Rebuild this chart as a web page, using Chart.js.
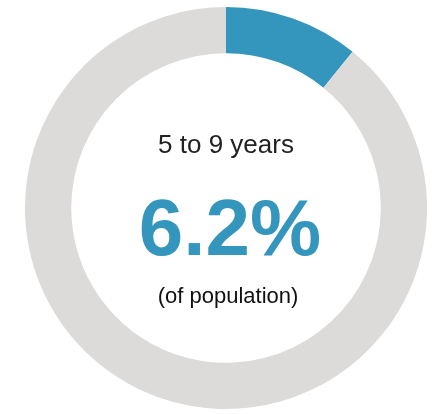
<html>
  <head>
    <title>5 to 9 years</title>
    <script src="https://cdn.jsdelivr.net/npm/chart.js@4.4.0/dist/chart.umd.min.js"></script>
    <style>
      html, body { margin:0; padding:0; background:#fff; }
      .wrap { width:433px; height:414px; }
    </style>
  </head>
  <body>
    <div class="wrap"><canvas id="donut"></canvas></div>
    <script>
      var labels = ['5 to 9 years', 'Rest'];
      var values = [6.2, 51.0];
      var colors = ['#3596bd', '#dcdbda'];
      var caption = '5 to 9 years';
      var bigText = '6.2%';
      var subText = '(of population)';

      // text in the hole
      var centerText = {
        id: 'centerText',
        afterDraw: function(chart) {
          var arc = chart.getDatasetMeta(0).data[0];
          var cx = arc.x, cy = arc.y;
          var ctx = chart.ctx;
          ctx.save();
          ctx.textAlign = 'center';
          ctx.textBaseline = 'alphabetic';
          ctx.fillStyle = '#222';
          ctx.font = '26px "Liberation Sans", Arial, sans-serif';
          ctx.fillText(caption, cx, cy - 55.5);
          ctx.fillStyle = colors[0];
          ctx.font = 'bold 80px "Liberation Sans", Arial, sans-serif';
          ctx.fillText(bigText, cx + 4, cy + 46.5);
          ctx.fillStyle = '#111';
          ctx.font = '22px "Liberation Sans", Arial, sans-serif';
          ctx.fillText(subText, cx + 2, cy + 94.5);
          ctx.restore();
        }
      };

      new Chart(document.getElementById('donut'), {
        type: 'doughnut',
        data: {
          labels: labels,
          datasets: [{
            data: values,
            backgroundColor: colors,
            borderWidth: 0,
            hoverOffset: 0
          }]
        },
        options: {
          responsive: true,
          maintainAspectRatio: false,
          animation: false,
          cutout: '77%',
          layout: { padding: { left: 25, right: 6, top: 6, bottom: 4 } },
          plugins: {
            legend: { display: false },
            tooltip: { enabled: false }
          }
        },
        plugins: [centerText]
      });
    </script>
  </body>
</html>
